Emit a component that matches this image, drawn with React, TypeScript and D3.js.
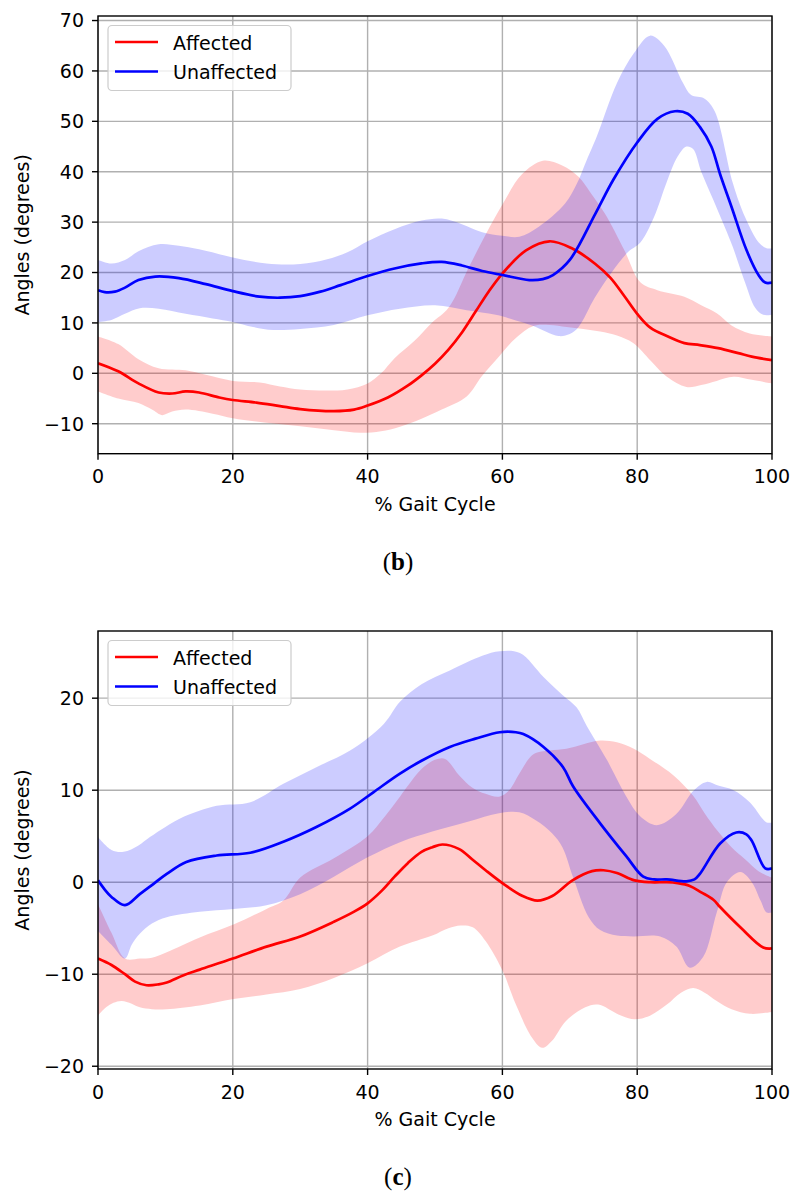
import React from "react";
import * as d3 from "d3";

type P = [number, number];

// ---------- Panel (b) ----------
const affB_mean: P[] = [[0,2],[3,0.4],[6,-2],[9,-3.8],[11,-4],[13,-3.6],[15,-3.8],[18,-4.8],[20,-5.3],[23.5,-5.8],[27,-6.5],[30,-7.1],[35,-7.5],[38,-7.2],[40,-6.4],[43,-4.8],[46,-2.4],[48,-0.4],[50,1.9],[52,4.7],[54,8.1],[56,12.2],[58,16.3],[60,19.8],[63.5,24.4],[67,26.2],[70.3,24.8],[73.7,21.8],[76,19],[78,15.5],[80,11.8],[82,9],[84.4,7.4],[87,6],[89.3,5.6],[92,5],[95,4],[97,3.3],[100,2.6]];
const affB_upper: P[] = [[0,7.3],[3,5.8],[6,2.8],[9,1],[13,0.6],[16,-0.3],[20,-1.5],[24,-1.8],[27,-2.6],[30,-3.2],[34,-3.4],[37,-3.2],[40,-2],[42,0],[44,3],[47,6.5],[49.5,10],[52,13],[55,21],[57.5,27.5],[60,33.5],[62.9,39.5],[66,42.2],[68.8,41.3],[71.3,39],[73,36],[75.2,31.7],[78.1,24.4],[80.5,18],[83,16.5],[87,15.2],[89.5,13.5],[91.8,11.9],[94,9.5],[96.7,7.9],[100,7.3]];
const affB_lower: P[] = [[0,-3.6],[3,-5],[6,-5.9],[8,-7.2],[9.5,-8.3],[11,-7.6],[13,-7.2],[17,-8],[20,-8.9],[25,-9.8],[30,-10.5],[35,-11.3],[38.9,-11.8],[42,-11.5],[44.8,-10.6],[48,-9],[51,-7.2],[54.7,-4.6],[57,-0.5],[59.6,3.5],[62,7],[64.6,9.4],[67,9.6],[69.5,9.2],[72,8.8],[74.5,8.3],[77,7.5],[79.4,6],[82,2.5],[84.4,-0.7],[87.3,-2.7],[89.5,-2.3],[91.8,-1.5],[94.3,-0.7],[97,-1.3],[100,-2]];
const unaB_mean: P[] = [[0,16.5],[1,16.1],[2.5,16.2],[4,17],[6,18.5],[8.5,19.2],[12,18.9],[16,17.7],[20,16.3],[24,15.2],[27,15],[30,15.3],[33,16.2],[36,17.5],[40,19.3],[44,20.8],[48,21.8],[51,22.1],[54,21.4],[57,20.3],[60,19.5],[64,18.5],[66,18.7],[67.5,19.5],[70,22.5],[73.8,31.7],[76.5,38.5],[80,45.8],[83,50.5],[85.6,52],[87.5,51.5],[89.3,48.9],[91,45],[92.3,39.5],[94,33],[96.2,24.5],[98,19.5],[99,18],[100,18]];
const unaB_upper: P[] = [[0,22.5],[2,21.8],[4,22.5],[6,24.2],[9,25.6],[12,25.3],[15,24.6],[20,23],[25,21.8],[29,21.6],[33,22.3],[37,24],[40,26.2],[44,28.6],[48,30.3],[51,30.7],[54,29.6],[57,28],[60,27.3],[62.5,27.1],[65.4,29.1],[69.3,33.7],[71,37.5],[72.5,42.3],[74,47],[77,57.6],[79.5,63.5],[81.9,67],[84,65],[86.8,57.6],[88,55.2],[90,54.5],[91.5,52],[94.2,37.7],[96,31],[98,26],[99.2,24.8],[100,24.8]];
const unaB_lower: P[] = [[0,10.2],[2,10.6],[4,11.8],[6.2,12.9],[9,12.8],[13,11.8],[17,10.9],[20,10.2],[23,9.2],[26,8.6],[30,8.8],[35,9.6],[40,11.5],[44.8,12.8],[50,13.5],[54.7,12.5],[59,11.6],[62,10.5],[64.6,9.4],[68.3,7.4],[70,7.8],[71.3,9.2],[73.7,15],[76.2,20],[78.6,24],[80.5,26],[82.5,31],[84.4,38],[86,43],[87.3,45],[88.3,44.5],[89.5,40],[91.3,34.4],[93,29],[94.2,25],[96,18],[97.5,13],[98.7,11.6],[100,11.6]];

// ---------- Panel (c) ----------
const affC_mean: P[] = [[0,-8.3],[2,-9],[4,-10],[5.5,-10.8],[7.2,-11.2],[9,-11.1],[10.2,-10.9],[12.7,-10.1],[15.1,-9.5],[20,-8.3],[25,-7],[30,-5.9],[35,-4.3],[38,-3.2],[40,-2.3],[42,-1],[44,0.6],[46,2.1],[48,3.3],[49.6,3.8],[51.1,4.1],[53.6,3.6],[55.5,2.5],[57.5,1.3],[60,-0.1],[63,-1.5],[65.2,-2],[67.4,-1.5],[70.4,0.2],[73.3,1.2],[75,1.3],[77,1],[79.6,0.2],[82,0],[84.4,0],[86,-0.1],[87.8,-0.4],[89.5,-1.1],[91.3,-1.9],[92.3,-2.7],[95.3,-4.9],[98.7,-7.1],[100,-7.2]];
const affC_upper: P[] = [[0,-2.4],[2,-5.5],[4,-8.3],[6.2,-8.3],[8,-8.2],[10.2,-7.6],[15.1,-6],[20.1,-4.6],[25,-2.9],[27.5,-2],[30,0.5],[35,2.6],[40,5],[42.4,7],[44.8,9.3],[46,10.5],[48,12.3],[50,13.3],[51.5,13.4],[53.6,11.6],[55.5,10.3],[57.5,9.6],[59.5,9.3],[61,10],[62.5,11.8],[64.6,13.9],[67,14.3],[69.5,14.5],[72,15],[74.5,15.4],[77,15.2],[79.5,14.5],[81.9,13.4],[85.4,11.6],[88.3,9.4],[90,7.5],[92,5.5],[94,3.8],[96,2.5],[98,1.2],[100,0.5]];
const affC_lower: P[] = [[0,-14.5],[1.2,-13.6],[2.3,-13.1],[3.5,-12.9],[5,-13.2],[6.2,-13.6],[8,-13.8],[10.2,-13.8],[15.1,-13.4],[20.1,-12.7],[25,-12.2],[30,-11.6],[35,-10.4],[40,-8.8],[44.8,-7],[49.6,-5.8],[52,-5],[53.8,-4.7],[55.6,-4.9],[57.5,-6.4],[60,-9.6],[62,-13.3],[64.4,-16.9],[65.9,-18],[67.4,-17.2],[69.4,-15.1],[72.3,-13.6],[74.2,-13.3],[77.3,-14.4],[79.6,-14.9],[81.9,-14.5],[84.4,-13.3],[86.5,-12],[88.3,-11.5],[90,-12],[91.8,-12.9],[94,-13.8],[96.7,-14.3],[99,-14.2],[100,-14.1]];
const unaC_mean: P[] = [[0,0.2],[1,-0.8],[2,-1.6],[4,-2.5],[6.2,-1.3],[8.2,-0.2],[10.2,0.9],[13.1,2.2],[17.6,2.9],[22.6,3.2],[27.5,4.4],[32.4,6],[37.4,8],[40.9,9.8],[44.8,11.8],[48,13.2],[52.2,14.7],[56,15.6],[59.6,16.3],[62,16.3],[63.1,16.1],[66.1,14.7],[69,12.5],[70.5,10.4],[74.5,6.4],[78.4,2.8],[80.9,0.6],[82.5,0.3],[84.4,0.3],[87.3,0.1],[88.5,0.3],[89.3,0.9],[92.3,4.2],[94.7,5.4],[96.2,5.2],[97,4.5],[99,1.5],[100,1.5]];
const unaC_upper: P[] = [[0,4.9],[2,3.5],[3.8,3.3],[6,4],[7.7,4.9],[10,6],[12.7,7.1],[17.6,8.3],[22.6,8.7],[27.5,10.7],[32.4,12.5],[37.4,14.3],[42.4,17.2],[44.8,19.6],[48,21.5],[52.2,23],[57,24.6],[59.6,25.1],[62.6,24.9],[66.1,22.3],[69,20.3],[71,19],[72.5,17],[75.5,13.3],[78.4,9.3],[80.4,7.2],[82.9,6.2],[85.8,7.4],[88.3,9.9],[90.3,10.9],[92,10.5],[94.3,10],[96.7,8.7],[99.2,6.5],[100,6.5]];
const unaC_lower: P[] = [[0,-5.3],[2,-6.8],[4,-8.3],[5,-6.8],[6.2,-5.6],[8,-4.5],[10.2,-3.8],[15.1,-3.2],[20.1,-2.9],[25,-2.5],[30,-1.3],[35,0.6],[40,2.7],[45,4.4],[49.6,5.5],[55,6.6],[59.5,7.5],[62.5,7.6],[65,6.7],[67.4,5.3],[68.9,3.8],[70.5,0.5],[72.8,-3.8],[74.5,-5.2],[77,-5.8],[79.4,-5.9],[83.4,-5.9],[85.8,-7],[87.8,-9.3],[89.8,-8.1],[91.8,-3.3],[93.3,0],[95.3,1.1],[97,0],[98.3,-2],[99.2,-3.3],[100,-3.3]];

const xTicks = [0, 20, 40, 60, 80, 100];
const yTicksB = [-10, 0, 10, 20, 30, 40, 50, 60, 70];
const yTicksC = [-20, -10, 0, 10, 20];
const legendLabels = ["Affected", "Unaffected"];
const RED = "#ff0000";
const BLUE = "#0000ff";
const FONT = "'DejaVu Sans', sans-serif";

interface PanelProps {
  top: number; bottom: number; yDomain: [number, number]; yTicks: number[];
  aff: [P[], P[], P[]]; una: [P[], P[], P[]]; caption: string; captionY: number;
}

const left = 98, right = 772;

function Panel({ top, bottom, yDomain, yTicks, aff, una, caption, captionY }: PanelProps) {
  const x = d3.scaleLinear().domain([0, 100]).range([left, right]);
  const y = d3.scaleLinear().domain(yDomain).range([bottom, top]);
  const curve = d3.curveCatmullRom.alpha(0.5);
  const line = d3.line<P>().x(d => x(d[0])).y(d => y(d[1])).curve(curve);
  const band = (upper: P[], lower: P[]) => {
    const up = line(upper) as string;
    const lo = line([...lower].reverse()) as string;
    return up + "L" + lo.slice(1) + "Z";
  };
  const clipId = "clip" + top;
  const lx1 = 115, lx2 = 158, ly = top + 26;
  return (
    <g>
      <defs>
        <clipPath id={clipId}><rect x={left} y={top} width={right - left} height={bottom - top} /></clipPath>
      </defs>
      <rect x={left} y={top} width={right - left} height={bottom - top} fill="#fff" />
      {xTicks.map(t => <line key={"gx" + t} x1={x(t)} x2={x(t)} y1={top} y2={bottom} stroke="#b0b0b0" strokeWidth={1.4} />)}
      {yTicks.map(t => <line key={"gy" + t} x1={left} x2={right} y1={y(t)} y2={y(t)} stroke="#b0b0b0" strokeWidth={1.4} />)}
      <g clipPath={`url(#${clipId})`}>
        <path d={band(aff[1], aff[2])} fill={RED} fillOpacity={0.2} />
        <path d={band(una[1], una[2])} fill={BLUE} fillOpacity={0.2} />
        <path d={line(aff[0]) as string} fill="none" stroke={RED} strokeWidth={2.7} />
        <path d={line(una[0]) as string} fill="none" stroke={BLUE} strokeWidth={2.7} />
      </g>
      <rect x={left} y={top} width={right - left} height={bottom - top} fill="none" stroke="#000" strokeWidth={1.4} />
      {xTicks.map(t => (
        <g key={"tx" + t}>
          <line x1={x(t)} x2={x(t)} y1={bottom} y2={bottom + 6} stroke="#000" strokeWidth={1.4} />
          <text x={x(t)} y={bottom + 29.5} textAnchor="middle" fontSize={19} fontFamily={FONT} fill="#000">{t}</text>
        </g>
      ))}
      {yTicks.map(t => (
        <g key={"ty" + t}>
          <line x1={left - 6} x2={left} y1={y(t)} y2={y(t)} stroke="#000" strokeWidth={1.4} />
          <text x={left - 14} y={y(t)} dy="0.36em" textAnchor="end" fontSize={19} fontFamily={FONT} fill="#000">{t < 0 ? "\u2212" + Math.abs(t) : t}</text>
        </g>
      ))}
      <text x={(left + right) / 2} y={bottom + 57} textAnchor="middle" fontSize={19} fontFamily={FONT} fill="#000">% Gait Cycle</text>
      <text transform={`translate(29,${(top + bottom) / 2}) rotate(-90)`} textAnchor="middle" fontSize={19} fontFamily={FONT} fill="#000">Angles (degrees)</text>
      <rect x={108} y={top + 9.5} width={183} height={65} rx={4} fill="#fff" fillOpacity={0.8} stroke="#cccccc" strokeWidth={1.2} />
      {legendLabels.map((lab, i) => (
        <g key={lab}>
          <line x1={lx1} x2={lx2} y1={ly + i * 29.5} y2={ly + i * 29.5} stroke={i === 0 ? RED : BLUE} strokeWidth={2.7} />
          <text x={173} y={ly + i * 29.5 + 7.5} fontSize={19} fontFamily={FONT} fill="#000">{lab}</text>
        </g>
      ))}
      <text x={398} y={captionY} textAnchor="middle" fontSize={25} fontFamily="'Liberation Serif', 'DejaVu Serif', serif" fill="#000">
        (<tspan fontWeight="bold">{caption}</tspan>)
      </text>
    </g>
  );
}

export default function App() {
  return (
    <svg width={803} height={1200} style={{ position: "absolute", left: 0, top: 0, background: "#fff" }}>
      <rect width={803} height={1200} fill="#fff" />
      <Panel top={16} bottom={453.7} yDomain={[-15.95, 70.9]} yTicks={yTicksB}
        aff={[affB_mean, affB_upper, affB_lower]} una={[unaB_mean, unaB_upper, unaB_lower]}
        caption="b" captionY={570} />
      <Panel top={631} bottom={1069} yDomain={[-20.3, 27.3]} yTicks={yTicksC}
        aff={[affC_mean, affC_upper, affC_lower]} una={[unaC_mean, unaC_upper, unaC_lower]}
        caption="c" captionY={1185} />
    </svg>
  );
}
